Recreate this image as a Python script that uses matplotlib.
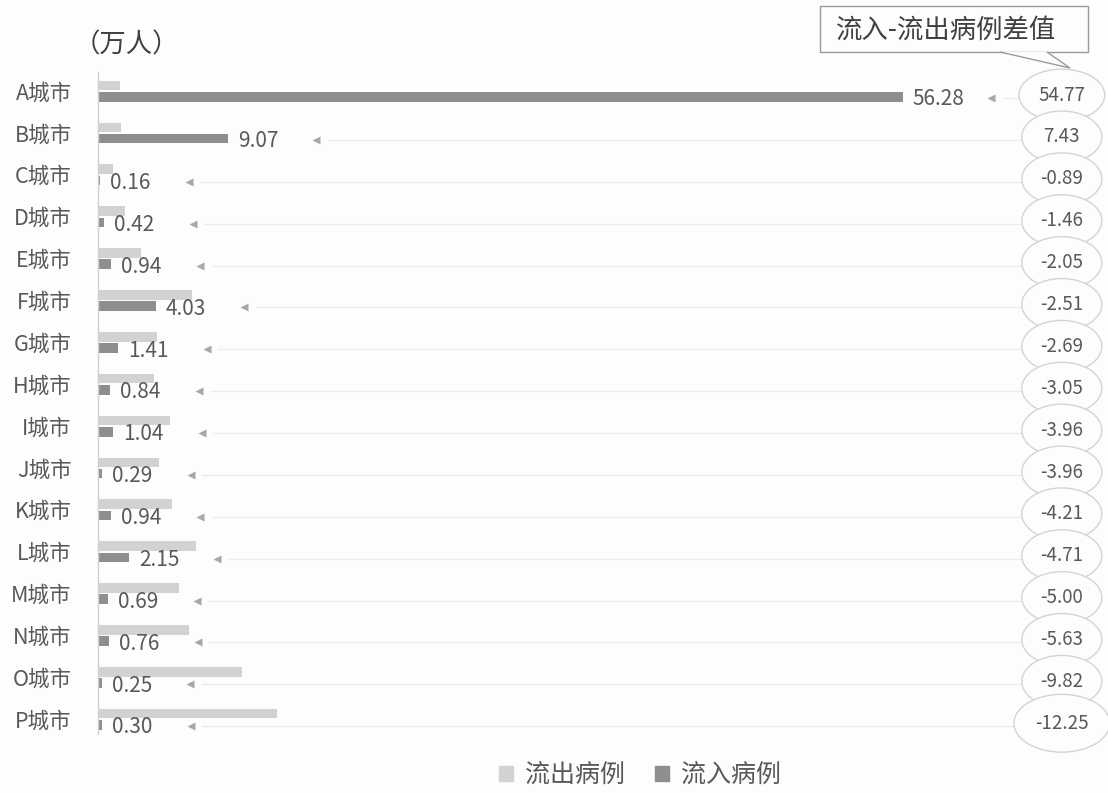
import matplotlib
matplotlib.use("Agg")
import matplotlib.pyplot as plt
import numpy as np
from matplotlib.patches import Ellipse, Patch, Polygon, Rectangle

plt.rcParams['font.family'] = ['Noto Sans CJK SC', 'DejaVu Sans']

# data
cities = ['A城市', 'B城市', 'C城市', 'D城市', 'E城市', 'F城市', 'G城市', 'H城市',
          'I城市', 'J城市', 'K城市', 'L城市', 'M城市', 'N城市', 'O城市', 'P城市']
inflow = [56.28, 9.07, 0.16, 0.42, 0.94, 4.03, 1.41, 0.84,
          1.04, 0.29, 0.94, 2.15, 0.69, 0.76, 0.25, 0.30]
diff = [54.77, 7.43, -0.89, -1.46, -2.05, -2.51, -2.69, -3.05,
        -3.96, -3.96, -4.21, -4.71, -5.00, -5.63, -9.82, -12.25]
outflow = [1.51, 1.64, 1.05, 1.88, 2.99, 6.54, 4.10, 3.89,
           5.00, 4.25, 5.15, 6.86, 5.69, 6.39, 10.07, 12.55]

bg = '#fdfdfb'
light = '#d2d2d2'
dark = '#8e8e8e'
txt = '#595959'

W, H = 1108, 793
fig = plt.figure(figsize=(W / 100, H / 100), dpi=100, facecolor=bg)
ax = fig.add_axes([98 / W, 1 - 740 / H, 1 - 98 / W, 670 / H])
ax.set_facecolor(bg)

y = np.arange(len(cities))
bh = 0.23
ax.barh(y - 0.13, outflow, height=bh, color=light, zorder=2)
ax.barh(y + 0.14, inflow, height=bh, color=dark, zorder=2)

ex = 67.4
for i in range(len(cities)):
    v = inflow[i]
    ax.text(v + 0.7, y[i] + 0.2, f'{v:.2f}', fontsize=15, color=txt,
            va='center', ha='left', zorder=3)
    ax.plot([v + 6.2], [y[i] + 0.17], marker='<', ms=6, color='#a8a8a8',
            mec='none', zorder=3)
    ew = 6.7 if i == 15 else (6.0 if i == 0 else 5.6)
    eh = 1.38 if i == 15 else 1.24
    ax.plot([v + 7.0, ex - ew / 2], [y[i] + 0.17, y[i] + 0.17],
            color='#ececec', lw=0.9, zorder=1)
    e = Ellipse((ex, y[i] + 0.1), ew, eh, facecolor=bg, edgecolor='#d4d4d4',
                lw=1.0, zorder=4 + i, clip_on=False)
    ax.add_patch(e)
    ax.text(ex, y[i] + 0.1, f'{diff[i]:.2f}', fontsize=13.5, color=txt,
            ha='center', va='center', zorder=4 + i, clip_on=False)

ax.set_xlim(0, 1010 / 14.3)
ax.set_ylim(15.5, -0.5)
ax.set_yticks(y)
ax.set_yticklabels(cities, fontsize=15.5, color=txt)
ax.tick_params(axis='y', length=0, pad=19)
ax.set_xticks([])
for s in ['top', 'right', 'bottom']:
    ax.spines[s].set_visible(False)
ax.spines['left'].set_color('#d0d0d0')
ax.spines['left'].set_linewidth(1.0)
ax.spines['left'].set_bounds(-0.45, 15.35)

fig.text(74 / W, 1 - 45 / H, '（万人）', fontsize=19, color='#404040',
         ha='left', va='center')

# callout box
box = Rectangle((820 / W, 1 - 52 / H), 268 / W, 46 / H, transform=fig.transFigure,
                facecolor=bg, edgecolor='#9a9a9a', lw=1.0, zorder=5)
fig.patches.append(box)
tail = Polygon([(1000 / W, 1 - 52 / H), (1070 / W, 1 - 68 / H), (1047 / W, 1 - 52 / H)],
               closed=False, transform=fig.transFigure, facecolor=bg,
               edgecolor='#9a9a9a', lw=1.0, zorder=6)
fig.patches.append(tail)
fig.text(946 / W, 1 - 30 / H, '流入-流出病例差值', fontsize=19, color='#404040',
         ha='center', va='center', zorder=7)

handles = [Patch(color=light, label='流出病例'), Patch(color=dark, label='流入病例')]
fig.legend(handles=handles, loc='center', bbox_to_anchor=(640 / W, 1 - 775 / H),
           ncol=2, frameon=False, fontsize=18, handlelength=0.55, handleheight=0.55,
           handletextpad=0.5, columnspacing=1.2, labelcolor=txt)

fig.savefig('out.png', dpi=100, facecolor=bg)
